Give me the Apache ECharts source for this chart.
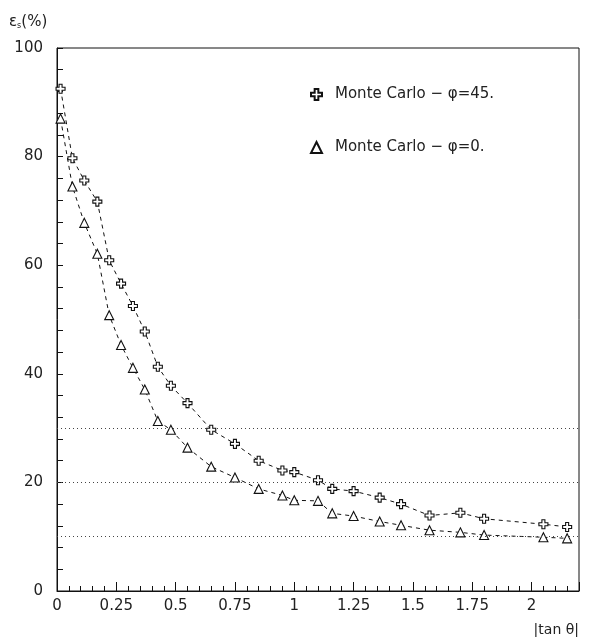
<!DOCTYPE html>
<html>
<head>
<meta charset="utf-8">
<script src="https://cdn.jsdelivr.net/npm/echarts@6/dist/echarts.min.js"></script>
<style>
  html, body { margin: 0; padding: 0; background: #fff; }
  #chart { width: 590px; height: 637px; }
</style>
</head>
<body>
<div id="chart"></div>
<script>
  // |tan theta| values, shared by both series
  const tanTheta = [0.015, 0.065, 0.115, 0.17, 0.22, 0.27, 0.32, 0.37, 0.425, 0.48, 0.55, 0.65, 0.75,
                    0.85, 0.95, 1.0, 1.1, 1.16, 1.25, 1.36, 1.45, 1.57, 1.7, 1.8, 2.05, 2.15];
  // efficiency (%) for phi = 45
  const effPhi45 = [92.5, 79.7, 75.6, 71.7, 60.9, 56.6, 52.5, 47.8, 41.3, 37.8, 34.6, 29.7, 27.1,
                    24.0, 22.2, 21.9, 20.4, 18.8, 18.4, 17.2, 16.0, 13.9, 14.4, 13.3, 12.3, 11.8];
  // efficiency (%) for phi = 0
  const effPhi0 = [87.0, 74.5, 67.8, 62.1, 50.8, 45.3, 41.1, 37.1, 31.3, 29.7, 26.4, 22.9, 20.9,
                   18.8, 17.6, 16.7, 16.6, 14.3, 13.8, 12.8, 12.1, 11.2, 10.8, 10.3, 9.9, 9.7];
  const seriesNames = ['Monte Carlo \u2212 \u03c6=45.', 'Monte Carlo \u2212 \u03c6=0.'];
  const refLevels = [30, 20, 10];

  const FONT = 'DejaVu Sans';
  const crossIcon = 'path://M-1,-3L1,-3L1,-1L3,-1L3,1L1,1L1,3L-1,3L-1,1L-3,1L-3,-1L-1,-1Z';

  function zip(xs, ys) {
    return xs.map((x, i) => [x, ys[i]]);
  }

  function getChartOpts() {
    const lineCommon = {
      type: 'line',
      symbolSize: 9,
      showAllSymbol: true,
      lineStyle: { color: '#111', width: 1, type: [4, 4] },
      itemStyle: { color: '#fff', borderColor: '#111', borderWidth: 1.1 },
      z: 3
    };
    return {
      animation: false,
      backgroundColor: '#fff',
      textStyle: { fontFamily: FONT, color: '#111' },
      grid: {
        left: 57, right: 11, top: 48, bottom: 45,
        show: true, borderColor: '#111', borderWidth: 1
      },
      legend: {
        orient: 'vertical',
        left: 310, top: 87,
        itemGap: 38,
        itemWidth: 11, itemHeight: 11,
        padding: 0,
        textStyle: { fontFamily: FONT, fontSize: 15, color: '#222', padding: [0, 0, 0, 8] },
        data: [
          { name: seriesNames[0], icon: crossIcon },
          { name: seriesNames[1], icon: 'triangle' }
        ]
      },
      xAxis: {
        type: 'value',
        min: 0, max: 2.2, interval: 0.25,
        name: '|tan \u03b8|',
        nameLocation: 'end',
        nameGap: 0,
        nameTextStyle: { fontFamily: FONT, fontSize: 14, color: '#222', align: 'right', verticalAlign: 'top', padding: [32, 0, 0, 0] },
        axisLine: { lineStyle: { color: '#111', width: 1 } },
        axisTick: { inside: true, length: 9, lineStyle: { color: '#111' } },
        minorTick: { show: true, splitNumber: 5, length: 5, lineStyle: { color: '#111' } },
        axisLabel: { fontFamily: FONT, fontSize: 15, color: '#222', margin: 8, showMaxLabel: false,
                     formatter: v => String(+v.toFixed(2)) },
        splitLine: { show: false }
      },
      yAxis: {
        type: 'value',
        min: 0, max: 100, interval: 20,
        name: '{a|\u03b5}{s|s}{a|(%)}',
        nameLocation: 'end',
        nameGap: 18,
        nameTextStyle: {
          align: 'left', padding: [0, 0, 0, -48],
          rich: {
            a: { fontFamily: FONT, fontSize: 15, color: '#222' },
            s: { fontFamily: FONT, fontSize: 8, color: '#222', padding: [8, 0, 0, 0] }
          }
        },
        axisLine: { lineStyle: { color: '#111', width: 1 } },
        axisTick: { inside: true, length: 6, lineStyle: { color: '#111' } },
        minorTick: { show: true, splitNumber: 5, length: 6, lineStyle: { color: '#111' } },
        axisLabel: { fontFamily: FONT, fontSize: 15, color: '#222', margin: 14 },
        splitLine: { show: false }
      },
      series: [
        Object.assign({}, lineCommon, {
          name: seriesNames[0],
          symbol: crossIcon,
          data: zip(tanTheta, effPhi45),
          markLine: {
            silent: true,
            symbol: 'none',
            label: { show: false },
            lineStyle: { color: '#444', width: 1, type: [1, 3] },
            data: refLevels.map(v => ({ yAxis: v }))
          }
        }),
        Object.assign({}, lineCommon, {
          name: seriesNames[1],
          symbol: 'triangle',
          data: zip(tanTheta, effPhi0)
        })
      ]
    };
  }

  const chartObj = echarts.init(document.getElementById('chart'));
  chartObj.setOption(getChartOpts());
</script>
</body>
</html>
